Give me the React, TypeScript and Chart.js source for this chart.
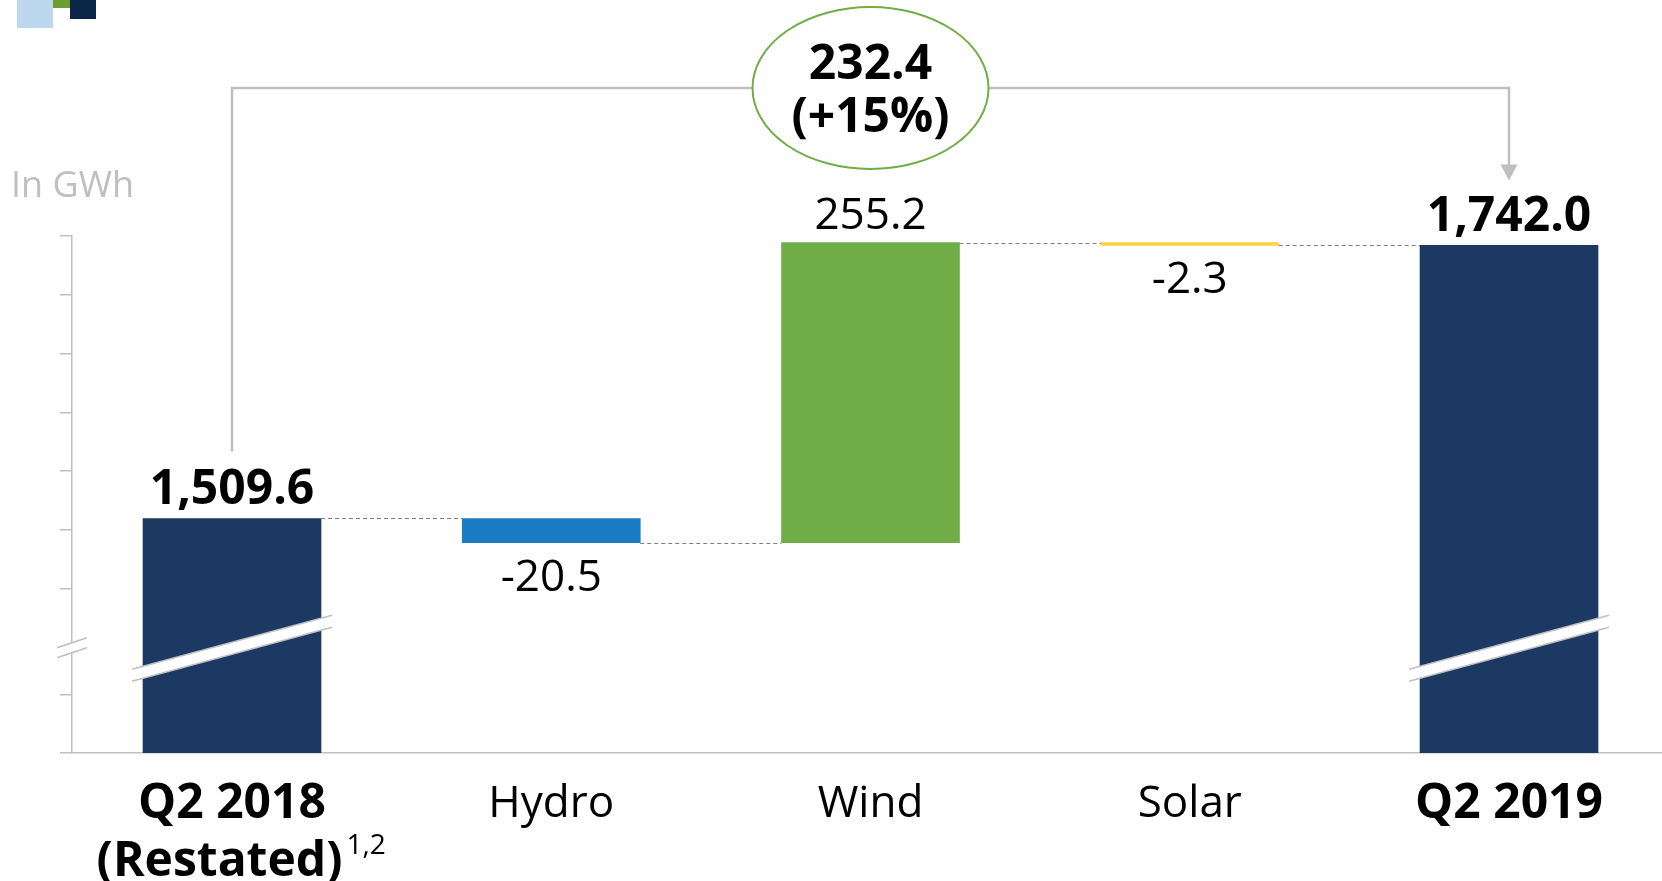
import React, { useEffect, useRef } from "react";
import { Chart, registerables } from "chart.js";

Chart.register(...registerables);

// ---------- data ----------
const CATEGORIES = ["Q2 2018", "Hydro", "Wind", "Solar", "Q2 2019"];
const X_LABELS: (string | string[])[] = [["Q2 2018", "(Restated)  "], "Hydro", "Wind", "Solar", "Q2 2019"];
const VALUES = [1509.6, -20.5, 255.2, -2.3, 1742.0];
const IS_TOTAL = [true, false, false, false, true];
const BAR_COLORS = ["#1B3963", "#1A7AC2", "#70AD47", "#FFD23F", "#1B3963"];
const Y_TICKS = [1750, 1700, 1650, 1600, 1550, 1500, 1450, 1360, 1310];
const Y_MIN = 1310;
const Y_MAX = 1750;
const BREAK_VALUE = 1400;
const DELTA_LINES = ["232.4", "(+15%)"];
const FOOTNOTE = "1,2";
const UNIT = "In GWh";

const FONT = "'Open Sans', 'Noto Sans', sans-serif";
const GREY = "#BFBFBF";
const TICK_PAD = 22;

// floating ranges for the waterfall
const RANGES: number[][] = [];
const RUNNING: number[] = [];
{
  let run = 0;
  VALUES.forEach((v, i) => {
    if (IS_TOTAL[i]) {
      RANGES.push([Y_MIN, v]);
      run = v;
    } else {
      RANGES.push([run, run + v]);
      run = run + v;
    }
    RUNNING.push(run);
  });
}

const fmt = (v: number, i: number) =>
  IS_TOTAL[i]
    ? v.toLocaleString("en-US", { minimumFractionDigits: 1, maximumFractionDigits: 1 })
    : v.toFixed(1);

const overlay = {
  id: "overlay",
  afterDraw(chart: any) {
    const ctx: CanvasRenderingContext2D = chart.ctx;
    const xs = chart.scales.x;
    const ys = chart.scales.y;
    const bars = chart.getDatasetMeta(0).data as any[];
    const topOf = (el: any) => Math.min(el.y, el.base);
    const botOf = (el: any) => Math.max(el.y, el.base);
    ctx.save();

    // logo blocks
    ctx.fillStyle = "#BDD7EE";
    ctx.fillRect(17, 0, 36, 28);
    ctx.fillStyle = "#6B9E2E";
    ctx.fillRect(53, 0, 17, 8);
    ctx.fillStyle = "#0B2747";
    ctx.fillRect(70, 0, 26, 19);

    // unit
    ctx.fillStyle = GREY;
    ctx.font = `36px ${FONT}`;
    ctx.textAlign = "left";
    ctx.textBaseline = "alphabetic";
    ctx.fillText(UNIT, 11, 197);

    // connectors
    ctx.strokeStyle = "#808080";
    ctx.lineWidth = 1;
    ctx.setLineDash([4, 3]);
    for (let i = 0; i < bars.length - 1; i++) {
      const a = bars[i], b = bars[i + 1];
      const yy = Math.round(ys.getPixelForValue(RUNNING[i])) + 0.5;
      ctx.beginPath();
      ctx.moveTo(a.x + a.width / 2, yy);
      ctx.lineTo(b.x - b.width / 2, yy);
      ctx.stroke();
    }
    ctx.setLineDash([]);

    // axis break marks
    const bp = ys.getPixelForValue(BREAK_VALUE);
    const ax = chart.chartArea.left;
    ctx.fillStyle = "#FFFFFF";
    ctx.beginPath();
    ctx.moveTo(ax - 8, bp - 4.5 + 8 / 3);
    ctx.lineTo(ax + 8, bp - 4.5 - 8 / 3);
    ctx.lineTo(ax + 8, bp + 5.5 - 8 / 3);
    ctx.lineTo(ax - 8, bp + 5.5 + 8 / 3);
    ctx.closePath();
    ctx.fill();
    ctx.strokeStyle = GREY;
    ctx.lineWidth = 1.5;
    [bp - 4.5, bp + 5.5].forEach((c) => {
      ctx.beginPath();
      ctx.moveTo(ax - 15, c + 5);
      ctx.lineTo(ax + 15, c - 5);
      ctx.stroke();
    });

    // bar break slashes
    bars.forEach((el, i) => {
      if (!IS_TOTAL[i]) return;
      const cx = el.x;
      const cy = bp + 1;
      const hw = 100, dy = 27, h = 6;
      ctx.fillStyle = "#FFFFFF";
      ctx.beginPath();
      ctx.moveTo(cx - hw, cy + dy - h);
      ctx.lineTo(cx + hw, cy - dy - h);
      ctx.lineTo(cx + hw, cy - dy + h);
      ctx.lineTo(cx - hw, cy + dy + h);
      ctx.closePath();
      ctx.fill();
      ctx.strokeStyle = GREY;
      ctx.lineWidth = 1.5;
      [-h, h].forEach((o) => {
        ctx.beginPath();
        ctx.moveTo(cx - hw, cy + dy + o);
        ctx.lineTo(cx + hw, cy - dy + o);
        ctx.stroke();
      });
    });

    // bracket with arrow
    const first = bars[0], last = bars[bars.length - 1];
    const xl = first.x, xr = last.x;
    const xc = xs.getPixelForValue(2);
    const by = 88;
    const rx = 118, ry = 81;
    const tip = topOf(last) - 65;
    ctx.strokeStyle = GREY;
    ctx.lineWidth = 2.5;
    ctx.beginPath();
    ctx.moveTo(xl, topOf(first) - 67);
    ctx.lineTo(xl, by);
    ctx.lineTo(xc - rx, by);
    ctx.stroke();
    ctx.beginPath();
    ctx.moveTo(xc + rx, by);
    ctx.lineTo(xr, by);
    ctx.lineTo(xr, tip - 15);
    ctx.stroke();
    ctx.fillStyle = GREY;
    ctx.beginPath();
    ctx.moveTo(xr - 8.5, tip - 16);
    ctx.lineTo(xr + 8.5, tip - 16);
    ctx.lineTo(xr, tip);
    ctx.closePath();
    ctx.fill();

    // ellipse with total delta
    ctx.strokeStyle = "#70AD47";
    ctx.lineWidth = 2;
    ctx.beginPath();
    ctx.ellipse(xc, by, rx, ry, 0, 0, Math.PI * 2);
    ctx.stroke();
    ctx.fillStyle = "#000000";
    ctx.font = `bold 48px ${FONT}`;
    ctx.textAlign = "center";
    ctx.fillText(DELTA_LINES[0], xc, 79);
    ctx.fillText(DELTA_LINES[1], xc, 132);

    // value labels
    bars.forEach((el, i) => {
      const v = VALUES[i];
      ctx.fillStyle = "#000000";
      ctx.textAlign = "center";
      ctx.font = IS_TOTAL[i] ? `bold 48px ${FONT}` : `44px ${FONT}`;
      if (v >= 0) {
        ctx.fillText(fmt(v, i), el.x, topOf(el) - 14);
      } else {
        ctx.fillText(fmt(v, i), el.x, botOf(el) + 48);
      }
    });

    // footnote superscript after "(Restated)"
    ctx.font = `bold 48px ${FONT}`;
    const line = (X_LABELS[0] as string[])[1];
    const wFull = ctx.measureText(line).width;
    const wText = ctx.measureText(line.trimEnd()).width;
    const sx = xs.getPixelForValue(0) - wFull / 2 + wText + 4;
    const secondMiddle = chart.chartArea.bottom + TICK_PAD + 29 + 58;
    ctx.font = `28px ${FONT}`;
    ctx.textAlign = "left";
    ctx.fillText(FOOTNOTE, sx, secondMiddle - 8);

    ctx.restore();
  },
};

export default function App() {
  const ref = useRef<HTMLCanvasElement>(null);
  useEffect(() => {
    const canvas = ref.current!;
    const chart = new Chart(canvas, {
      type: "bar",
      data: {
        datasets: [
          {
            label: "GWh",
            data: RANGES.map((r, i) => ({ x: i, y: r })) as any,
            backgroundColor: BAR_COLORS,
            borderWidth: 0,
            barThickness: 178,
          },
        ],
      },
      options: {
        animation: false,
        responsive: false,
        devicePixelRatio: 1,
        layout: { padding: { left: 60, top: 236, right: 0, bottom: 15 } },
        plugins: {
          legend: { display: false },
          tooltip: { enabled: false },
          title: { display: false },
        },
        scales: {
          x: {
            type: "linear",
            min: -0.5012,
            max: 4.4792,
            offset: false,
            afterBuildTicks: (scale: any) => {
              scale.ticks = CATEGORIES.map((_, i) => ({ value: i }));
            },
            grid: { display: false, drawTicks: false, tickLength: 0 },
            border: { display: true, color: GREY, width: 1.5 },
            ticks: {
              autoSkip: false,
              maxRotation: 0,
              padding: TICK_PAD,
              color: "#000000",
              callback: (value: any) => X_LABELS[value as number],
              font: (ctx: any) =>
                ctx.index === 0 || ctx.index === CATEGORIES.length - 1
                  ? { family: FONT, size: 48, weight: "bold", lineHeight: "58px" }
                  : { family: FONT, size: 44, weight: "normal", lineHeight: "58px" },
            },
          },
          y: {
            type: "linear",
            min: Y_MIN,
            max: Y_MAX,
            afterBuildTicks: (scale: any) => {
              scale.ticks = Y_TICKS.map((v) => ({ value: v }));
            },
            grid: {
              display: true,
              drawOnChartArea: false,
              drawTicks: true,
              tickLength: 12,
              color: GREY,
              lineWidth: 1.5,
            },
            border: { display: true, color: GREY, width: 1.5 },
            ticks: { display: false },
          },
        },
      } as any,
      plugins: [overlay],
    });
    return () => chart.destroy();
  }, []);
  return (
    <div
      style={{
        position: "fixed",
        left: 0,
        top: 0,
        width: 1662,
        height: 881,
        overflow: "hidden",
        background: "#FFFFFF",
      }}
    >
      <canvas ref={ref} width={1662} height={928} style={{ display: "block", width: 1662, height: 928 }} />
    </div>
  );
}
